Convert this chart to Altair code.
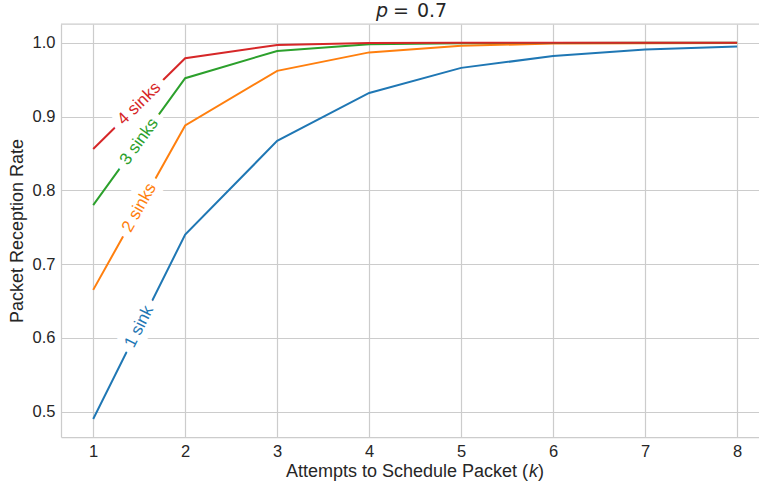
import math
import altair as alt
import pandas as pd

# ---- data ----
k_values = [1, 2, 3, 4, 5, 6, 7, 8]
series_names = ["1 sink", "2 sinks", "3 sinks", "4 sinks"]
sink1 = [0.490, 0.740, 0.867, 0.932, 0.966, 0.982, 0.991, 0.995]
sink2 = [0.665, 0.888, 0.962, 0.987, 0.996, 0.999, 0.9995, 0.9998]
sink3 = [0.780, 0.952, 0.989, 0.998, 0.9995, 0.9999, 1.0, 1.0]
sink4 = [0.856, 0.979, 0.997, 0.9996, 1.0, 1.0, 1.0, 1.0]
colors = ["#1f77b4", "#ff7f0e", "#2ca02c", "#d62728"]
x_ticks = [1, 2, 3, 4, 5, 6, 7, 8]
y_ticks = [0.5, 0.6, 0.7, 0.8, 0.9, 1.0]
label_x = 1.5

# ---- layout ----
W, H = 698, 413
XDOM = [0.65, 8.238]
YDOM = [0.4655, 1.0255]
FONT = "Liberation Sans"
MATH = "DejaVu Sans"
TXT = "#262626"
GRID = "#cccccc"

all_series = [sink1, sink2, sink3, sink4]
rows = []
for name, vals in zip(series_names, all_series):
    for k, v in zip(k_values, vals):
        rows.append({"k": k, "rate": v, "series": name})
df = pd.DataFrame(rows)

px_x = W / (XDOM[1] - XDOM[0])
px_y = H / (YDOM[1] - YDOM[0])
lab_rows = []
for name, vals in zip(series_names, all_series):
    y = vals[0] + (vals[1] - vals[0]) * (label_x - k_values[0]) / (k_values[1] - k_values[0])
    theta = math.degrees(math.atan2((vals[1] - vals[0]) * px_y, (k_values[1] - k_values[0]) * px_x))
    lab_rows.append({"k": label_x, "rate": y, "series": name, "angle": 360 - theta})
labels = pd.DataFrame(lab_rows)

xs = alt.Scale(domain=XDOM, nice=False, zero=False)
ys = alt.Scale(domain=YDOM, nice=False, zero=False)
cs = alt.Scale(domain=series_names, range=colors)

x_enc = alt.X("k:Q", scale=xs, axis=alt.Axis(values=x_ticks, format="d", title=None))
y_enc = alt.Y("rate:Q", scale=ys,
              axis=alt.Axis(values=y_ticks, format=".1f", title="Packet Reception Rate"))

lines = alt.Chart(df).mark_line(strokeWidth=2).encode(
    x=x_enc, y=y_enc,
    color=alt.Color("series:N", scale=cs, legend=None),
    detail="series:N",
)

label_bg = alt.Chart(labels).mark_text(
    font=FONT, fontSize=17, color="white", stroke="white", strokeWidth=16,
    strokeJoin="round", align="center", baseline="middle"
).encode(
    x=alt.X("k:Q", scale=xs), y=alt.Y("rate:Q", scale=ys),
    text="series:N", angle=alt.Angle("angle:Q", scale=None),
)

label_fg = alt.Chart(labels).mark_text(
    font=FONT, fontSize=17, align="center", baseline="middle"
).encode(
    x=alt.X("k:Q", scale=xs), y=alt.Y("rate:Q", scale=ys),
    text="series:N", angle=alt.Angle("angle:Q", scale=None),
    color=alt.Color("series:N", scale=cs, legend=None),
)

top_border = alt.Chart(pd.DataFrame({"a": [0]})).mark_rule(
    color=GRID, strokeWidth=1.25
).encode(x=alt.value(0), x2=alt.value(W), y=alt.value(0))

def txt(s, x, y, font, size, align="center", style="normal"):
    return alt.Chart(pd.DataFrame({"t": [s]})).mark_text(
        font=font, fontSize=size, fontStyle=style, color=TXT,
        align=align, baseline="alphabetic"
    ).encode(text="t:N", x=alt.value(x), y=alt.value(y))

title_p = txt("p", 321, -7, MATH, 19, style="italic")
title_eq = txt("=", 340, -7, MATH, 19)
title_val = txt("0.7", 371, -7, MATH, 19)

xt_main = txt("Attempts to Schedule Packet (", 467, 452.5, FONT, 18, align="right")
xt_k = txt("k", 472.5, 452.5, FONT, 18, style="italic")
xt_close = txt(")", 477, 452.5, FONT, 18, align="left")

chart = alt.layer(
    lines, label_bg, label_fg, top_border,
    title_p, title_eq, title_val, xt_main, xt_k, xt_close
).properties(
    width=W, height=H,
    autosize=alt.AutoSizeParams(type="none"),
    padding={"left": 61, "top": 24, "right": 0, "bottom": 51},
    background="white",
).configure_view(stroke=None).configure_axis(
    grid=True, gridColor=GRID, gridWidth=1.2,
    domainColor=GRID, domainWidth=1.25,
    ticks=False, labelPadding=6,
    labelFont=FONT, labelFontSize=16.5, labelColor=TXT,
    titleFont=FONT, titleFontSize=18, titleFontWeight="normal", titleColor=TXT,
).configure_axisY(titlePadding=6)

chart.save("out.html", embed_options={"renderer": "svg", "actions": False})
